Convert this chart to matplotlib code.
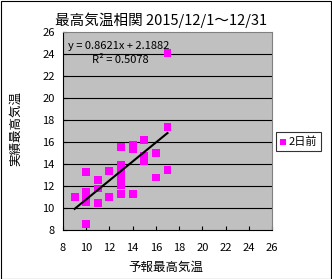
import matplotlib
matplotlib.use("Agg")
import matplotlib.pyplot as plt
from matplotlib.patches import Rectangle
import numpy as np

plt.rcParams['font.family'] = ['Noto Sans CJK JP', 'DejaVu Sans']

# Data: forecast (2 days before) vs observed max temperature
forecast = [9, 10, 10, 10, 10, 10, 11, 11, 11, 12, 12,
            13, 13, 13, 13, 13, 13, 13, 14, 14, 14,
            15, 15, 15, 16, 16, 17, 17, 17]
observed = [11.0, 13.3, 11.5, 11.1, 10.6, 8.6, 12.6, 11.8, 10.5, 13.4, 11.0,
            15.6, 13.9, 13.4, 12.9, 12.5, 12.1, 11.3, 15.8, 15.4, 11.3,
            16.2, 14.8, 14.3, 15.0, 12.8, 17.4, 13.5, 24.1]
slope = 0.8621
intercept = 2.1882
r2 = 0.5078
ticks = [8, 10, 12, 14, 16, 18, 20, 22, 24, 26]
series_name = '2日前'
title = '最高気温相関 2015/12/1～12/31'
xlabel = '予報最高気温'
ylabel = '実績最高気温'

W, H = 332, 279
fig = plt.figure(figsize=(W / 100, H / 100), dpi=100)
fig.patch.set_facecolor('white')
fig.add_artist(Rectangle((0.5 / W, 0.5 / H), 1 - 1.5 / W, 1 - 1.5 / H,
                         transform=fig.transFigure, fill=False,
                         edgecolor='black', linewidth=0.8))

ax = fig.add_axes([63 / W, (H - 230.3) / H, (272 - 63) / W, (230.3 - 32.3) / H])
ax.set_facecolor('#C0C0C0')
ax.set_xlim(8, 26)
ax.set_ylim(8, 26)
ax.set_xticks(ticks)
ax.set_yticks(ticks)
ax.tick_params(direction='in', length=3, width=0.8, labelsize=8, pad=6, colors='black')
ax.tick_params(axis='x', pad=9)
for yv in ticks[1:-1]:
    ax.axhline(yv, color='black', linewidth=0.8, zorder=1)
for s in ['top', 'right']:
    ax.spines[s].set_color('#808080')
    ax.spines[s].set_linestyle((0, (1, 1)))
    ax.spines[s].set_linewidth(0.8)
for s in ['left', 'bottom']:
    ax.spines[s].set_color('black')
    ax.spines[s].set_linewidth(0.8)

ax.scatter(forecast, observed, marker='s', s=33, color='#FF00FF',
           edgecolors='none', zorder=3, label=series_name)
xs = np.array([min(forecast), max(forecast)])
ax.plot(xs, slope * xs + intercept, color='black', linewidth=1.5, zorder=4)

ax.text(68 / W, (H - 46) / H, f'y = {slope}x + {intercept}', transform=fig.transFigure,
        fontsize=8, va='center', ha='left')
ax.text(92 / W, (H - 60) / H, f'R² = {r2}', transform=fig.transFigure,
        fontsize=8, va='center', ha='left')

fig.text(161 / W, (H - 20.5) / H, title, fontsize=10.5, ha='center', va='center')
fig.text(166 / W, (H - 267.5) / H, xlabel, fontsize=9, ha='center', va='center')
fig.text(16 / W, (H - 129) / H, ylabel, fontsize=9, ha='center', va='center', rotation=90)

leg = fig.legend(loc='center', bbox_to_anchor=(298.5 / W, (H - 141.5) / H),
                 fontsize=8, frameon=True, fancybox=False, shadow=False,
                 handlelength=0.6, handletextpad=0.2, borderpad=0.35,
                 markerscale=0.8)
leg.get_frame().set_edgecolor('black')
leg.get_frame().set_linewidth(0.8)

fig.savefig('out.png', dpi=100, facecolor='white')
